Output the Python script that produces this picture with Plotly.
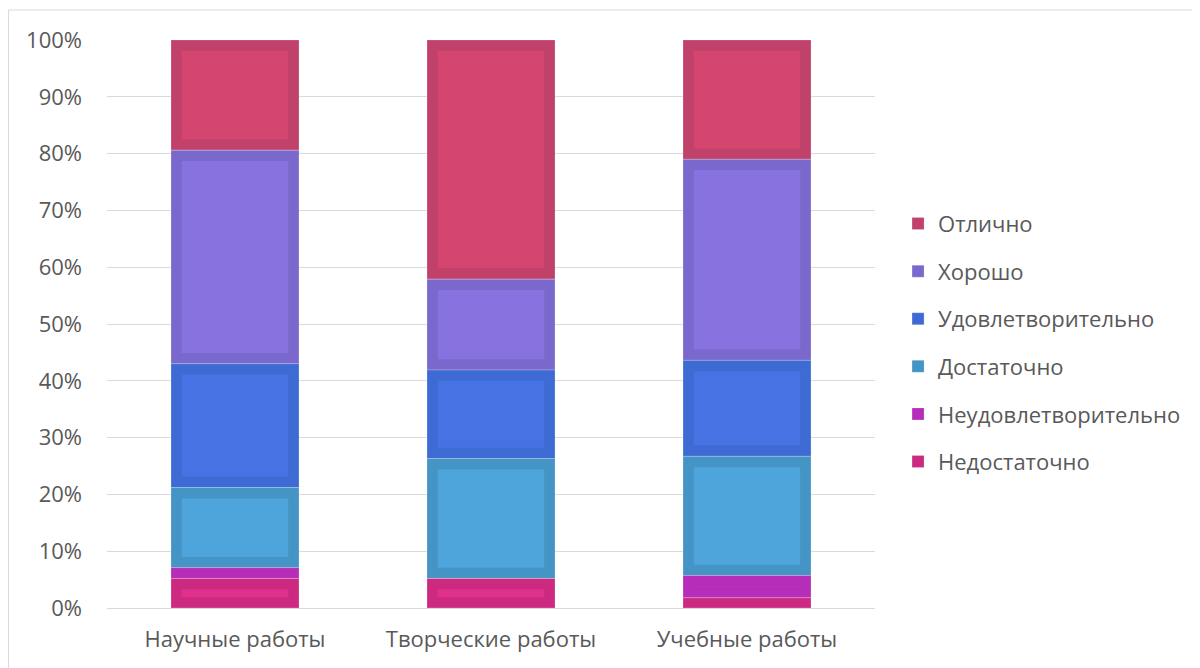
import numpy as np
import plotly.graph_objects as go

categories = ["Научные работы", "Творческие работы", "Учебные работы"]
series_names = ["Недостаточно", "Неудовлетворительно", "Достаточно",
                "Удовлетворительно", "Хорошо", "Отлично"]
nedostatochno = [5.2, 5.2, 1.8]
neudovl = [1.9, 0.0, 3.9]
dostatochno = [14.1, 21.1, 21.0]
udovl = [21.8, 15.6, 16.9]
horosho = [37.6, 16.0, 35.4]
otlichno = [19.4, 42.1, 21.0]
y_ticks = [0, 10, 20, 30, 40, 50, 60, 70, 80, 90, 100]
y_ticklabels = ["0%", "10%", "20%", "30%", "40%", "50%", "60%", "70%", "80%", "90%", "100%"]

series_values = [nedostatochno, neudovl, dostatochno, udovl, horosho, otlichno]
border_colors = ["#CC2A80", "#B52DB9", "#4494C5", "#3E6BD3", "#7B68CC", "#C0416A"]
fill_colors = ["#E0308D", "#BB2EC0", "#4DA5DB", "#4673E3", "#8872E0", "#D4466F"]

FONT = "Open Sans"
GRAY = "#595959"
FS = 22
BAR_W = 0.5
PAD_Y = 1.9      # inner border thickness in % units (~10.7 px)
PAD_X = 0.042    # inner border thickness in category units

fig = go.Figure()
xs = np.arange(len(categories))
vals = np.array(series_values, dtype=float)
totals = vals.sum(axis=0)
pct = vals / totals * 100
bases = np.vstack([np.zeros(len(categories)), np.cumsum(pct, axis=0)[:-1]])

# add top series first so legend lists Отлично first
for i in reversed(range(len(series_names))):
    name = series_names[i]
    fig.add_trace(go.Bar(
        x=xs, y=pct[i], base=bases[i], width=BAR_W, name=name,
        legendgroup=name,
        marker=dict(color=border_colors[i], line=dict(width=0.6, color="rgba(255,255,255,0.35)")),
        hoverinfo="skip",
    ))
    inner_h = np.clip(pct[i] - 2 * PAD_Y, 0, None)
    fig.add_trace(go.Bar(
        x=xs, y=inner_h, base=bases[i] + PAD_Y, width=BAR_W - 2 * PAD_X,
        name=name, legendgroup=name, showlegend=False,
        marker=dict(color=fill_colors[i], line=dict(width=0)),
        hoverinfo="skip",
    ))

fig.update_layout(
    barmode="overlay",
    width=1192, height=660,
    margin=dict(l=99, r=325, t=32, b=60),
    paper_bgcolor="white", plot_bgcolor="white",
    font=dict(family=FONT, size=FS, color=GRAY),
    showlegend=True,
    legend=dict(
        traceorder="grouped", tracegroupgap=16,
        x=1.03, xanchor="left", y=0.467, yanchor="middle",
        xref="paper", yref="paper",
        font=dict(family=FONT, size=FS, color=GRAY),
        itemwidth=30, bgcolor="rgba(0,0,0,0)",
    ),
    xaxis=dict(
        tickmode="array", tickvals=xs, ticktext=categories,
        range=[-0.5, len(categories) - 0.5],
        showgrid=False, zeroline=False, showline=False,
        ticks="", tickfont=dict(size=FS, color=GRAY),
        ticklabelstandoff=16,
    ),
    yaxis=dict(
        range=[0, 100], tickmode="array", tickvals=y_ticks, ticktext=y_ticklabels,
        showgrid=True, gridcolor="#D9D9D9", gridwidth=1,
        zeroline=True, zerolinecolor="#D9D9D9", zerolinewidth=1,
        showline=False, ticks="", tickfont=dict(size=FS, color=GRAY),
        ticklabelstandoff=24,
    ),
    shapes=[dict(
        type="rect", xref="paper", yref="paper",
        x0=-0.1283, x1=1.4206, y0=-0.3, y1=1.0528,
        line=dict(color="#D9D9D9", width=1), fillcolor="rgba(0,0,0,0)", layer="below",
    )],
)

fig.write_html("out.html")
